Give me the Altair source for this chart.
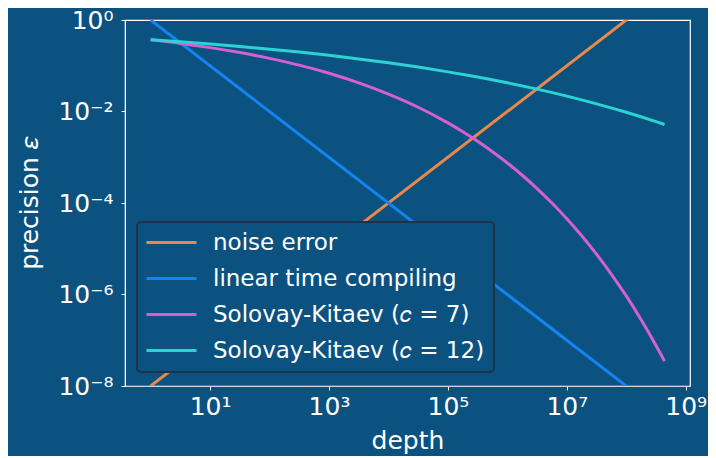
import math
import altair as alt
import pandas as pd

# ---- data ----
series_names = ["noise error", "linear time compiling",
                "Solovay-Kitaev (𝑐 = 7)", "Solovay-Kitaev (𝑐 = 12)"]
series_colors = ["#e8894a", "#1584f0", "#d65fd2", "#2bd3d3"]

noise_depth = [1, 4.4e8]
noise_eps = [1e-8, 4.4]

linear_depth = [1, 4.4e8]
linear_eps = [1.0, 2.27e-9]

sk7_depth = [1, 3.16, 10, 31.6, 100, 316, 1e3, 3.16e3, 1e4, 3.16e4, 1e5,
             1.78e5, 3.16e5, 5.62e5, 1e6, 1.78e6, 3.16e6, 5.62e6, 1e7,
             1.78e7, 3.16e7, 5.62e7, 1e8, 1.78e8, 3.16e8, 4.4e8]
sk7_eps = [0.368, 0.308, 0.249, 0.194, 0.145, 0.103, 0.0684, 0.0423, 0.024,
           0.0124, 0.00564, 0.00361, 0.00223, 0.00132, 7.5e-4, 4.04e-4,
           2.07e-4, 1.0e-4, 4.54e-5, 1.93e-5, 7.6e-6, 2.77e-6, 9.3e-7,
           2.8e-7, 7.7e-8, 3.5e-8]

sk12_depth = [1, 3.16, 10, 31.6, 100, 316, 1e3, 3.16e3, 1e4, 3.16e4, 1e5,
              3.16e5, 1e6, 3.16e6, 1e7, 3.16e7, 1e8, 3.16e8, 4.4e8]
sk12_eps = [0.368, 0.333, 0.298, 0.264, 0.230, 0.199, 0.169, 0.141, 0.116,
            0.0934, 0.0735, 0.0565, 0.0423, 0.0308, 0.0217, 0.0147, 0.0096,
            0.0060, 0.0052]

x_ticks = [1e1, 1e3, 1e5, 1e7, 1e9]
x_tick_labels = ["10¹", "10³", "10⁵", "10⁷", "10⁹"]
y_ticks = [1e-8, 1e-6, 1e-4, 1e-2, 1]
y_tick_labels = ["10⁻⁸", "10⁻⁶", "10⁻⁴", "10⁻²", "10⁰"]

rows = []
for name, xs, ys in [
    (series_names[0], noise_depth, noise_eps),
    (series_names[1], linear_depth, linear_eps),
    (series_names[2], sk7_depth, sk7_eps),
    (series_names[3], sk12_depth, sk12_eps),
]:
    for i, (x, y) in enumerate(zip(xs, ys)):
        rows.append({"series": name, "depth": x, "eps": y, "order": i})
df = pd.DataFrame(rows)


def label_expr(ticks, labels):
    parts = []
    for t, l in zip(ticks, labels):
        e = int(round(math.log10(t)))
        parts.append(f"round(log(datum.value)/LN10) == {e} ? '{l}'")
    return " : ".join(parts) + " : ''"


BG = "#0b5280"
FONT = "DejaVu Sans"

chart = alt.Chart(df).mark_line(strokeWidth=3, clip=True, interpolate="monotone").encode(
    x=alt.X("depth:Q",
            scale=alt.Scale(type="log", domain=[0.37, 1.18e9], nice=False),
            axis=alt.Axis(values=x_ticks, labelExpr=label_expr(x_ticks, x_tick_labels),
                          title="depth", domainColor="#c9d6df")),
    y=alt.Y("eps:Q",
            scale=alt.Scale(type="log", domain=[1e-8, 1], nice=False),
            axis=alt.Axis(values=y_ticks, labelExpr=label_expr(y_ticks, y_tick_labels),
                          title="precision 𝜀", labelPadding=8)),
    color=alt.Color("series:N",
                    scale=alt.Scale(domain=series_names, range=series_colors),
                    legend=alt.Legend(title=None, orient="none", legendX=12, legendY=202,
                                      symbolType="M-2.5,0H2.5", symbolSize=400,
                                      symbolStrokeWidth=3, symbolOffset=14,
                                      labelFontSize=23,
                                      labelColor="white", labelFont=FONT,
                                      labelLimit=400, labelOffset=30, rowPadding=12,
                                      padding=9, cornerRadius=4, strokeColor="#1c3349",
                                      fillColor=BG)),
    order="order:Q",
).properties(
    width=565, height=366,
    background=BG,
    autosize=alt.AutoSizeParams(type="none"),
    padding={"left": 117, "top": 12, "right": 18, "bottom": 70},
).configure_view(
    stroke="white", strokeWidth=1.2
).configure_legend(
    strokeWidth=2
).configure_axis(
    labelFont=FONT, labelFontSize=25, labelColor="white",
    titleFont=FONT, titleFontSize=25, titleColor="white", titleFontWeight="normal",
    domainColor="white", tickColor="white", tickSize=4, grid=False,
    labelPadding=4,
).configure_axisY(
    titlePadding=15
).configure_axisX(
    titlePadding=9
)

chart.save("out.html", embed_options={"renderer": "svg", "actions": False})
